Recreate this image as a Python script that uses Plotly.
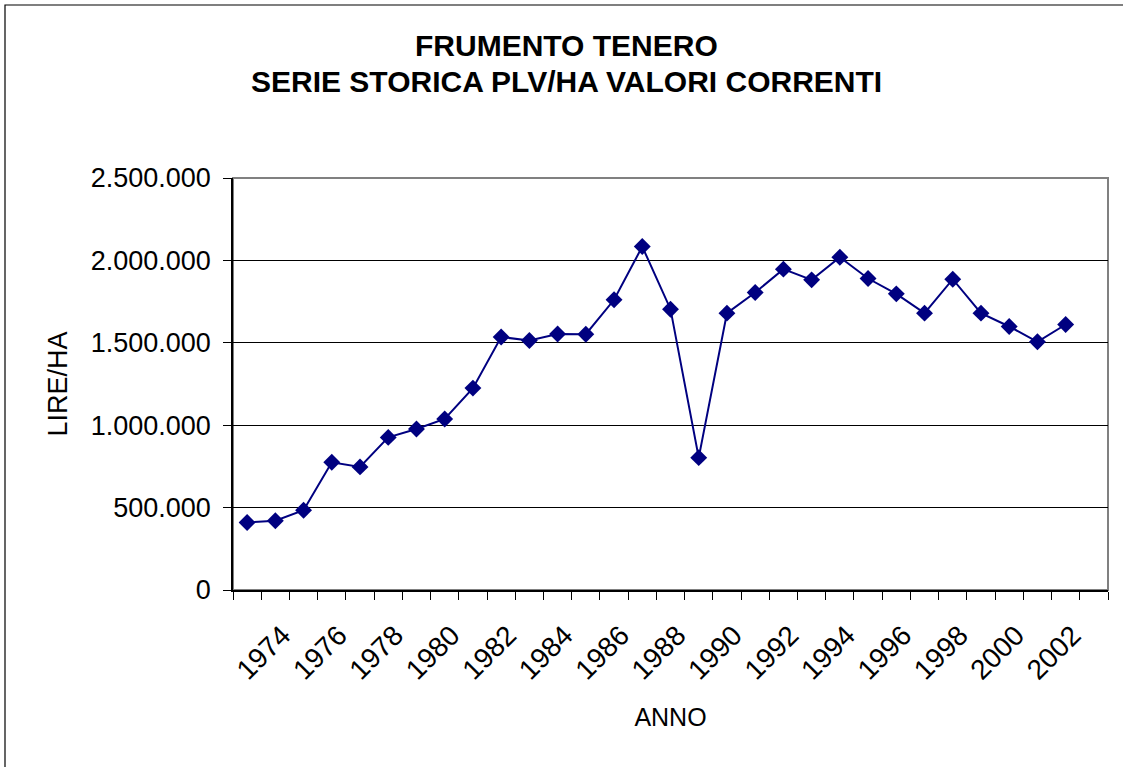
import plotly.graph_objects as go

years = list(range(1973, 2003))
plv_ha = [410000, 420000, 484000, 775000, 747000, 926000, 977000, 1038000, 1225000, 1535000,
          1514000, 1553000, 1552000, 1761000, 2084000, 1704000, 803000, 1680000, 1805000, 1947000,
          1882000, 2019000, 1890000, 1797000, 1680000, 1886000, 1680000, 1599000, 1506000, 1611000]
tick_years = list(range(1974, 2003, 2))
tick_labels = [str(y) for y in tick_years]
boundaries = [y - 0.5 for y in range(1973, 2005)]

title_line1 = "FRUMENTO TENERO"
title_line2 = "SERIE STORICA PLV/HA VALORI CORRENTI"

FONT = "Liberation Sans, Arial, sans-serif"

fig = go.Figure()
fig.add_trace(go.Scatter(
    x=years, y=plv_ha, mode="lines+markers",
    line=dict(color="#000080", width=2),
    marker=dict(symbol="diamond", size=13, color="#000080"),
    showlegend=False,
))

fig.update_layout(
    width=1123, height=767,
    margin=dict(l=233, r=15, t=178, b=177),
    paper_bgcolor="white", plot_bgcolor="white",
    separators=",.",
    font=dict(family=FONT, color="black"),
    xaxis=dict(
        automargin=False,
        range=[1972.5, 2003.5],
        tickmode="array", tickvals=tick_years, ticktext=tick_labels,
        tickangle=-45, ticks="", tickfont=dict(size=28, family=FONT),
        ticklabelstandoff=16, ticklabelshift=7,
        showgrid=False, zeroline=False,
        showline=True, linecolor="black", linewidth=1.5,
        minor=dict(tickmode="array", tickvals=boundaries, ticks="outside",
                   ticklen=8, tickcolor="black", tickwidth=1, showgrid=False),
        title=dict(text="ANNO", font=dict(size=25, family=FONT), standoff=24),
    ),
    yaxis=dict(
        automargin=False,
        range=[0, 2500000], tickmode="linear", tick0=0, dtick=500000,
        tickformat=",d", tickfont=dict(size=27, family=FONT),
        ticks="outside", ticklen=8, tickcolor="black",
        ticklabelstandoff=7,
        showgrid=True, gridcolor="black", gridwidth=1,
        zeroline=False, showline=True, linecolor="black", linewidth=1.5,
        title=dict(text="LIRE/HA", font=dict(size=27, family=FONT), standoff=15),
    ),
    shapes=[
        dict(type="rect", xref="paper", yref="paper", x0=0, y0=0, x1=1, y1=1,
             line=dict(color="#808080", width=2), layer="below"),
        dict(type="rect", xref="paper", yref="paper",
             x0=(5 - 233) / 875, x1=(1130 - 233) / 875,
             y0=(590 - 775) / 412, y1=(590 - 5) / 412,
             line=dict(color="black", width=1.2), layer="below"),
    ],
    annotations=[
        dict(text="<b>" + title_line1 + "</b>", xref="paper", yref="paper",
             x=(566 - 233) / 875, y=(590 - 46) / 412, xanchor="center", yanchor="middle",
             showarrow=False, font=dict(size=30, family=FONT)),
        dict(text="<b>" + title_line2 + "</b>", xref="paper", yref="paper",
             x=(566 - 233) / 875, y=(590 - 81) / 412, xanchor="center", yanchor="middle",
             showarrow=False, font=dict(size=30, family=FONT)),
    ],
)

fig.write_html("out.html", config={"displayModeBar": False},
               post_script="document.body.style.margin='0';document.body.style.padding='0';")
